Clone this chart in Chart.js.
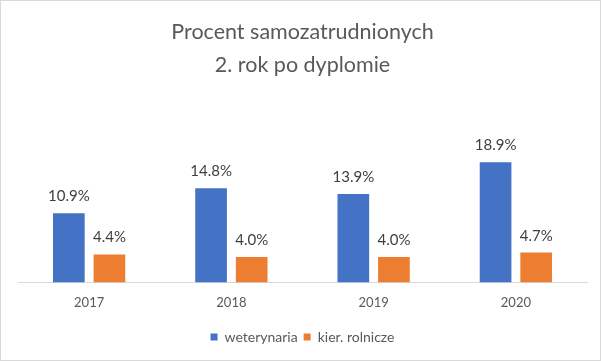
<!DOCTYPE html>
<html>
<head>
<meta charset="utf-8">
<script src="https://cdn.jsdelivr.net/npm/chart.js@4/dist/chart.umd.min.js"></script>
<style>
  html, body { margin: 0; padding: 0; background: #fff; }
  #wrap { position: relative; width: 601px; height: 361px; box-sizing: border-box; border: 1px solid #d9d9d9; }
  canvas { display: block; }
</style>
</head>
<body>
<div id="wrap"><canvas id="c" width="599" height="359"></canvas></div>
<script>
const categories = ["2017", "2018", "2019", "2020"];
const weterynaria = [10.9, 14.8, 13.9, 18.9];
const kierRolnicze = [4.4, 4.0, 4.0, 4.7];
const seriesNames = ["weterynaria", "kier. rolnicze"];
const titleLines = ["Procent samozatrudnionych", "2. rok po dyplomie"];

const FONT = "Lato, 'Liberation Sans', sans-serif";

const labelPlugin = {
  id: 'barLabels',
  afterDatasetsDraw(chart) {
    const ctx = chart.ctx;
    ctx.save();
    ctx.font = "15px " + FONT;
    ctx.fillStyle = "#404040";
    ctx.textAlign = "center";
    ctx.textBaseline = "alphabetic";
    chart.data.datasets.forEach((ds, i) => {
      const meta = chart.getDatasetMeta(i);
      meta.data.forEach((bar, j) => {
        ctx.fillText(ds.data[j].toFixed(1) + "%", bar.x, bar.y - 12);
      });
    });
    ctx.restore();
  }
};

new Chart(document.getElementById('c'), {
  type: 'bar',
  data: {
    labels: categories,
    datasets: [
      { label: seriesNames[0], data: weterynaria, backgroundColor: '#4472C4', categoryPercentage: 0.571, barPercentage: 0.78 },
      { label: seriesNames[1], data: kierRolnicze, backgroundColor: '#ED7D31', categoryPercentage: 0.571, barPercentage: 0.78 }
    ]
  },
  options: {
    responsive: false,
    animation: false,
    layout: { padding: { left: 17, right: 13, top: 15, bottom: 6 } },
    scales: {
      x: {
        grid: { display: false, drawTicks: false },
        border: { display: true, color: '#d9d9d9', width: 1 },
        ticks: { color: '#595959', font: { family: FONT, size: 13 }, padding: 13 }
      },
      y: {
        display: false,
        min: 0,
        max: 30
      }
    },
    plugins: {
      title: {
        display: true,
        text: titleLines,
        color: '#595959',
        font: { family: FONT, size: 21.5, weight: 'normal', lineHeight: 1.53 },
        padding: { top: 0, bottom: 10 }
      },
      legend: {
        position: 'bottom',
        labels: {
          color: '#595959',
          font: { family: FONT, size: 14 },
          boxWidth: 7,
          boxHeight: 7,
          padding: 6
        }
      },
      tooltip: { enabled: false }
    }
  },
  plugins: [labelPlugin]
});
</script>
</body>
</html>
